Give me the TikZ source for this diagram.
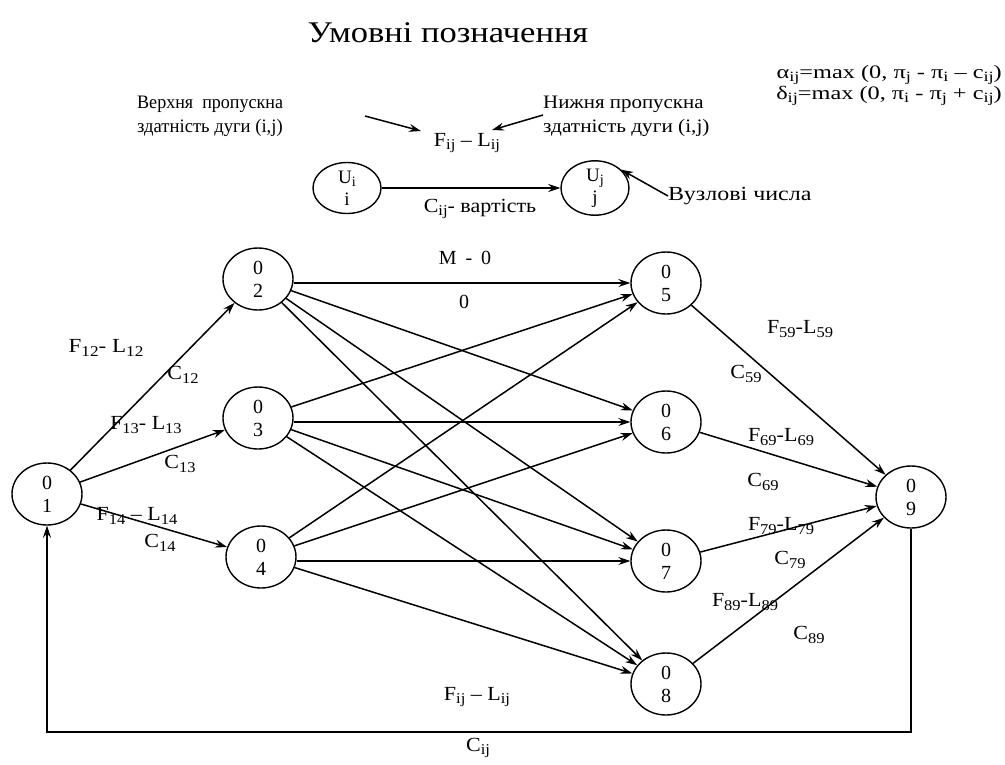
\documentclass[tikz,border=0pt]{standalone}
\usepackage{fontspec}
\usepackage{graphicx}
\setmainfont{Liberation Serif}
\usetikzlibrary{shapes.geometric,arrows.meta}
\newcommand{\sbs}[1]{\raisebox{-0.18em}{\scalebox{0.75}{#1}}}
\newcommand{\hs}[2]{\scalebox{#1}[1]{#2}}
\begin{document}
\begin{tikzpicture}[x=1pt,y=-1pt,
  nd/.style={draw, ellipse, line width=1.4pt, minimum width=70pt, minimum height=62pt, inner sep=0pt, align=center, font=\fontsize{20}{23}\selectfont},
  lg/.style={draw, ellipse, line width=1.4pt, minimum width=68pt, minimum height=51pt, inner sep=0pt, align=center, font=\fontsize{19}{22}\selectfont},
  arc/.style={line width=1.5pt, -{Stealth[length=12pt,width=8pt,inset=4pt]}},
  lbl/.style={font=\fontsize{20}{22}\selectfont, inner sep=0pt},
  leg/.style={font=\fontsize{19}{24}\selectfont, inner sep=0pt, anchor=west, align=left},
  frm/.style={font=\fontsize{19}{21}\selectfont, inner sep=0pt, anchor=east},
]
\useasboundingbox (0,0) rectangle (1005,764);
% title and formulas
\node[inner sep=0pt, font=\fontsize{30}{34}\selectfont] (title) at (448,33) {\hs{1.15}{Умовні позначення}};
\node[frm] (f1) at (1002,75) {\hs{1.28}{α\sbs{ij}=max (0, π\sbs{j} - π\sbs{i} – c\sbs{ij})}};
\node[frm] (f2) at (1002,96) {\hs{1.28}{δ\sbs{ij}=max (0, π\sbs{i} - π\sbs{j} + c\sbs{ij})}};
% legend
\node[leg] (up) at (137,116) {\hs{0.95}{Верхня \ пропускна}\\\hs{0.98}{здатність дуги (i,j)}};
\node[leg] (low) at (543,116) {\hs{1.1}{Нижня пропускна}\\\hs{1.12}{здатність дуги (i,j)}};
\node[lbl] (fl) at (467,143) {\hs{1.1}{F\sbs{ij} – L\sbs{ij}}};
\node[lg] (ui) at (347,188) {U\sbs{i}\\i};
\node[lg] (uj) at (595,188) {U\sbs{j}\\j};
\node[lbl] (cost) at (480,209) {\hs{1.1}{C\sbs{ij}- вартість}};
\node[lbl, anchor=west] (vn) at (668,196) {\hs{1.2}{Вузлові числа}};
\coordinate (a1) at (365,116);
\coordinate (a1e) at (421,131);
\coordinate (a2) at (543,115);
\coordinate (a2e) at (492,130);
\draw[arc] (a1) -- (a1e);
\draw[arc] (a2) -- (a2e);
\draw[arc] (vn.west) -- (uj.35);
\draw[arc, line width=2.2pt] (ui) -- (uj);
% network nodes
\node[nd] (n1) at (47,494) {0\\1};
\node[nd] (n2) at (258,279) {0\\2};
\node[nd] (n3) at (258,418) {0\\3};
\node[nd] (n4) at (261,557) {0\\4};
\node[nd] (n5) at (666,283) {0\\5};
\node[nd] (n6) at (666,422) {0\\6};
\node[nd] (n7) at (666,561) {0\\7};
\node[nd] (n8) at (666,684) {0\\8};
\node[nd] (n9) at (911,497) {0\\9};
% edges
\foreach \a in {2,3,4} \draw[arc] (n1) -- (n\a);
\draw[arc] (n2.east |- n5) -- (n5);
\draw[arc] (n3.east |- n6) -- (n6);
\draw[arc] (n4.east |- n7) -- (n7);
\foreach \a/\b in {2/6,2/7,2/8,3/5,3/7,3/8,4/5,4/6,4/8} \draw[arc] (n\a) -- (n\b);
\foreach \b in {5,6,7,8} \draw[arc] (n\b) -- (n9);
\coordinate (c1) at (911,732);
\coordinate (c2) at (47,732);
\draw[arc] (n9.south) -- (c1) -- (c2) -- (n1.south);
% edge labels
\node[lbl] (l12) at (106,348) {\hs{1.15}{F\sbs{12}- L\sbs{12}}};
\node[lbl] (c12) at (183,375) {\hs{1.1}{C\sbs{12}}};
\node[lbl] (l13) at (146,425) {\hs{1.1}{F\sbs{13}- L\sbs{13}}};
\node[lbl] (c13) at (180,464) {\hs{1.1}{C\sbs{13}}};
\node[lbl] (l14) at (137,516) {\hs{1.1}{F\sbs{14} – L\sbs{14}}};
\node[lbl] (c14) at (160,543) {\hs{1.1}{C\sbs{14}}};
\node[lbl] (m0) at (465,258) {M\hspace{9pt}-\hspace{9pt}0};
\node[lbl] (z0) at (464,302) {0};
\node[lbl] (l59) at (800,329) {\hs{1.1}{F\sbs{59}-L\sbs{59}}};
\node[lbl] (c59) at (746,374) {\hs{1.1}{C\sbs{59}}};
\node[lbl] (l69) at (781,437) {\hs{1.1}{F\sbs{69}-L\sbs{69}}};
\node[lbl] (c69) at (763,482) {\hs{1.1}{C\sbs{69}}};
\node[lbl] (l79) at (781,526) {\hs{1.1}{F\sbs{79}-L\sbs{79}}};
\node[lbl] (c79) at (790,560) {\hs{1.1}{C\sbs{79}}};
\node[lbl] (l89) at (745,602) {\hs{1.1}{F\sbs{89}-L\sbs{89}}};
\node[lbl] (c89) at (809,635) {\hs{1.1}{C\sbs{89}}};
\node[lbl] (lij) at (477,697) {\hs{1.1}{F\sbs{ij} – L\sbs{ij}}};
\node[lbl] (cij) at (478,748) {\hs{1.1}{C\sbs{ij}}};
\end{tikzpicture}
\end{document}
